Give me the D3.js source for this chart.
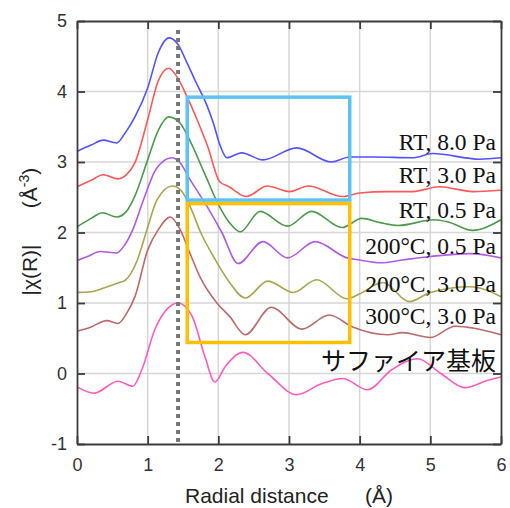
<!DOCTYPE html>
<html>
<head>
<meta charset="utf-8">
<script src="https://cdn.jsdelivr.net/npm/d3@7"></script>
<style>
  body { margin: 0; background: #fff; }
  svg { display: block; }
</style>
</head>
<body>
<div id="chart"></div>
<script>
// |chi(R)| spectra, values as [R, value]

const rt80 = [[0,3.15],[0.2,3.24],[0.37,3.31],[0.56,3.27],[0.68,3.41],[0.82,3.64],[1.0,4.05],[1.15,4.55],[1.30,4.76],[1.42,4.68],[1.56,4.4],[1.67,4.16],[1.84,3.8],[1.93,3.55],[2.02,3.25],[2.12,3.06],[2.33,3.13],[2.63,3.03],[3.11,3.2],[3.6,3.0],[3.86,3.07],[4.2,3.07],[4.75,3.06],[5.03,3.12],[5.7,3.04],[6,3.06]];
const rt30 = [[0,2.65],[0.2,2.74],[0.37,2.82],[0.58,2.76],[0.7,2.82],[0.82,2.99],[1.0,3.6],[1.15,4.15],[1.30,4.33],[1.42,4.2],[1.56,3.92],[1.7,3.6],[1.85,3.22],[2.02,2.72],[2.15,2.65],[2.4,2.51],[2.69,2.66],[3.01,2.58],[3.27,2.66],[3.76,2.51],[4.0,2.56],[4.4,2.58],[4.75,2.58],[5.13,2.65],[5.6,2.58],[6,2.6]];
const rt05 = [[0,2.08],[0.2,2.2],[0.36,2.28],[0.56,2.22],[0.7,2.3],[0.82,2.52],[1.0,3.03],[1.15,3.45],[1.30,3.64],[1.46,3.55],[1.6,3.3],[1.8,2.85],[2.0,2.4],[2.15,2.15],[2.31,2.01],[2.59,2.3],[2.98,2.09],[3.32,2.3],[3.75,2.07],[4.03,2.2],[4.29,2.14],[4.55,2.1],[5.05,2.18],[5.25,2.15],[5.6,2.03],[6,2.18]];
const c200p05 = [[0,1.6],[0.15,1.66],[0.33,1.73],[0.56,1.71],[0.68,1.83],[0.79,2.04],[0.94,2.46],[1.12,2.9],[1.34,3.06],[1.45,3.0],[1.6,2.75],[1.84,2.37],[2.05,2.0],[2.28,1.56],[2.63,1.87],[2.98,1.64],[3.37,1.87],[3.82,1.64],[4.0,1.61],[4.3,1.57],[4.6,1.61],[5.0,1.66],[5.56,1.7],[6,1.64]];
const c200p30 = [[0,1.15],[0.2,1.16],[0.4,1.22],[0.6,1.29],[0.68,1.32],[0.85,1.6],[0.99,2.04],[1.13,2.46],[1.35,2.66],[1.47,2.6],[1.6,2.37],[1.75,2.0],[1.93,1.66],[2.16,1.29],[2.38,1.07],[2.7,1.31],[3.06,1.15],[3.39,1.33],[3.82,1.06],[4.0,1.13],[4.33,1.29],[4.7,1.02],[5.0,1.15],[5.56,1.23],[6,1.09]];
const c300p30 = [[0,0.6],[0.2,0.66],[0.42,0.75],[0.58,0.71],[0.7,0.85],[0.82,1.09],[1.0,1.75],[1.15,2.04],[1.32,2.22],[1.46,2.04],[1.6,1.7],[1.74,1.37],[1.98,1.0],[2.16,0.81],[2.38,0.55],[2.75,0.94],[3.18,0.63],[3.57,0.83],[3.9,0.66],[4.4,0.55],[4.6,0.58],[5.0,0.51],[5.35,0.67],[6,0.55]];
const sapphire = [[0,-0.19],[0.24,-0.28],[0.58,-0.11],[0.79,-0.18],[0.92,0.06],[1.1,0.62],[1.29,0.93],[1.43,1.0],[1.63,0.81],[1.81,0.24],[1.95,-0.12],[2.1,0.1],[2.35,0.3],[2.7,0.0],[3.11,-0.3],[3.45,-0.15],[3.76,-0.07],[4.11,-0.23],[4.45,0.05],[4.82,0.21],[5.15,0.0],[5.49,-0.2],[5.8,-0.1],[6,-0.05]];

const seriesData = [rt80, rt30, rt05, c200p05, c200p30, c300p30, sapphire];
const seriesColors = ["#5252ff", "#ff5858", "#4c9a4c", "#b05ae8", "#a8a64e", "#bc6a6a", "#ff5cbe"];
const seriesLabels = ["RT, 8.0 Pa", "RT, 3.0 Pa", "RT, 0.5 Pa", "200°C, 0.5 Pa", "200°C, 3.0 Pa", "300°C, 3.0 Pa", "サファイア基板"];
const labelY = [3.17, 2.7, 2.2, 1.7, 1.16, 0.7, 0.05];

const xTicks = [0, 1, 2, 3, 4, 5, 6];
const yTicks = [-1, 0, 1, 2, 3, 4, 5];
const markerR = 1.43;
// highlight boxes: [x0, x1, y0, y1]
const blueBox = [1.56, 3.86, 2.46, 3.92];
const yellowBox = [1.56, 3.86, 0.44, 2.41];

const width = 510;
const height = 508;
const margin = {top: 21, right: 9, bottom: 64, left: 77};
const innerWidth = width - margin.left - margin.right;
const innerHeight = height - margin.top - margin.bottom;

const svg = d3.select("#chart")
    .append("svg")
    .attr("width", width)
    .attr("height", height);

const inner = svg.append("g")
    .attr("transform", `translate(${margin.left}, ${margin.top})`);

const xScale = d3.scaleLinear().domain([0, 6]).range([0, innerWidth]);
const yScale = d3.scaleLinear().domain([-1, 5]).range([innerHeight, 0]);

// grid
inner.append("g")
    .selectAll("line.vx")
    .data(xTicks.slice(1, -1))
    .join("line")
    .attr("x1", d => xScale(d)).attr("x2", d => xScale(d))
    .attr("y1", 0).attr("y2", innerHeight)
    .attr("stroke", "#d6d6d6").attr("stroke-width", 1.5);

inner.append("g")
    .selectAll("line.hy")
    .data(yTicks.slice(1, -1))
    .join("line")
    .attr("x1", 0).attr("x2", innerWidth)
    .attr("y1", d => yScale(d)).attr("y2", d => yScale(d))
    .attr("stroke", "#d6d6d6").attr("stroke-width", 1.5);

const line = d3.line()
    .x(d => xScale(d[0]))
    .y(d => yScale(d[1]))
    .curve(d3.curveMonotoneX);

inner.append("g")
    .selectAll("path")
    .data(seriesData)
    .join("path")
    .attr("fill", "none")
    .attr("stroke", (d, i) => seriesColors[i])
    .attr("stroke-width", 1.6)
    .attr("d", line);

// dotted marker line
inner.append("line")
    .attr("x1", xScale(markerR)).attr("x2", xScale(markerR))
    .attr("y1", 9).attr("y2", innerHeight)
    .attr("stroke", "#777")
    .attr("stroke-width", 4)
    .attr("stroke-dasharray", "4,4");

function drawBox(b, color) {
    inner.append("rect")
        .attr("x", xScale(b[0]))
        .attr("y", yScale(b[3]))
        .attr("width", xScale(b[1]) - xScale(b[0]))
        .attr("height", yScale(b[2]) - yScale(b[3]))
        .attr("fill", "none")
        .attr("stroke", color)
        .attr("stroke-width", 3.5);
}
drawBox(blueBox, "#5cc3f2");
drawBox(yellowBox, "#ffc000");

// series labels
inner.append("g")
    .selectAll("text")
    .data(seriesLabels)
    .join("text")
    .attr("x", innerWidth - 5)
    .attr("y", (d, i) => yScale(labelY[i]))
    .attr("text-anchor", "end")
    .attr("font-family", (d, i) => i === 6 ? "'Noto Sans CJK JP', sans-serif" : "'Liberation Serif', 'Times New Roman', serif")
    .attr("font-size", (d, i) => i === 6 ? 25 : 23.5)
    .attr("fill", "#111")
    .text(d => d);

// axes with inward ticks
const axisColor = "#3c3c3c";
function styleAxis(g) {
    g.select(".domain").attr("stroke", axisColor).attr("stroke-width", 1.8);
    g.selectAll(".tick line").attr("stroke", axisColor).attr("stroke-width", 1.8);
    g.selectAll(".tick text")
        .attr("font-family", "'Liberation Sans', Arial, sans-serif")
        .attr("font-size", 18)
        .attr("fill", "#333");
}

inner.append("g")
    .attr("transform", `translate(0, ${innerHeight})`)
    .call(d3.axisBottom(xScale).tickValues(xTicks).tickFormat(d => String(d))
        .tickSizeInner(-8).tickSizeOuter(0).tickPadding(14))
    .call(styleAxis);

inner.append("g")
    .call(d3.axisTop(xScale).tickValues(xTicks).tickSizeInner(-8).tickSizeOuter(0))
    .call(styleAxis)
    .call(g => g.selectAll(".tick text").remove());

inner.append("g")
    .call(d3.axisLeft(yScale).tickValues(yTicks).tickFormat(d => String(d))
        .tickSizeInner(-8).tickSizeOuter(0).tickPadding(10))
    .call(styleAxis);

inner.append("g")
    .attr("transform", `translate(${innerWidth}, 0)`)
    .call(d3.axisRight(yScale).tickValues(yTicks).tickSizeInner(-8).tickSizeOuter(0))
    .call(styleAxis)
    .call(g => g.selectAll(".tick text").remove());

// axis titles
const titleFont = "'Liberation Sans', Arial, sans-serif";
svg.append("text")
    .attr("x", 185).attr("y", 503)
    .attr("font-family", titleFont).attr("font-size", 21).attr("fill", "#222")
    .text("Radial distance");
svg.append("text")
    .attr("x", 365).attr("y", 503)
    .attr("font-family", titleFont).attr("font-size", 21).attr("fill", "#222")
    .text("(Å)");

svg.append("text")
    .attr("transform", "translate(37, 270) rotate(-90)")
    .attr("text-anchor", "middle")
    .attr("font-family", titleFont).attr("font-size", 21).attr("fill", "#222")
    .text("|χ(R)|");

const yTitle2 = svg.append("text")
    .attr("transform", "translate(37, 188) rotate(-90)")
    .attr("text-anchor", "middle")
    .attr("font-family", titleFont).attr("font-size", 21).attr("fill", "#222");
yTitle2.append("tspan").text("(Å");
yTitle2.append("tspan").attr("dy", -8).attr("font-size", 14).text("-3");
yTitle2.append("tspan").attr("dy", 8).text(")");
</script>
</body>
</html>
